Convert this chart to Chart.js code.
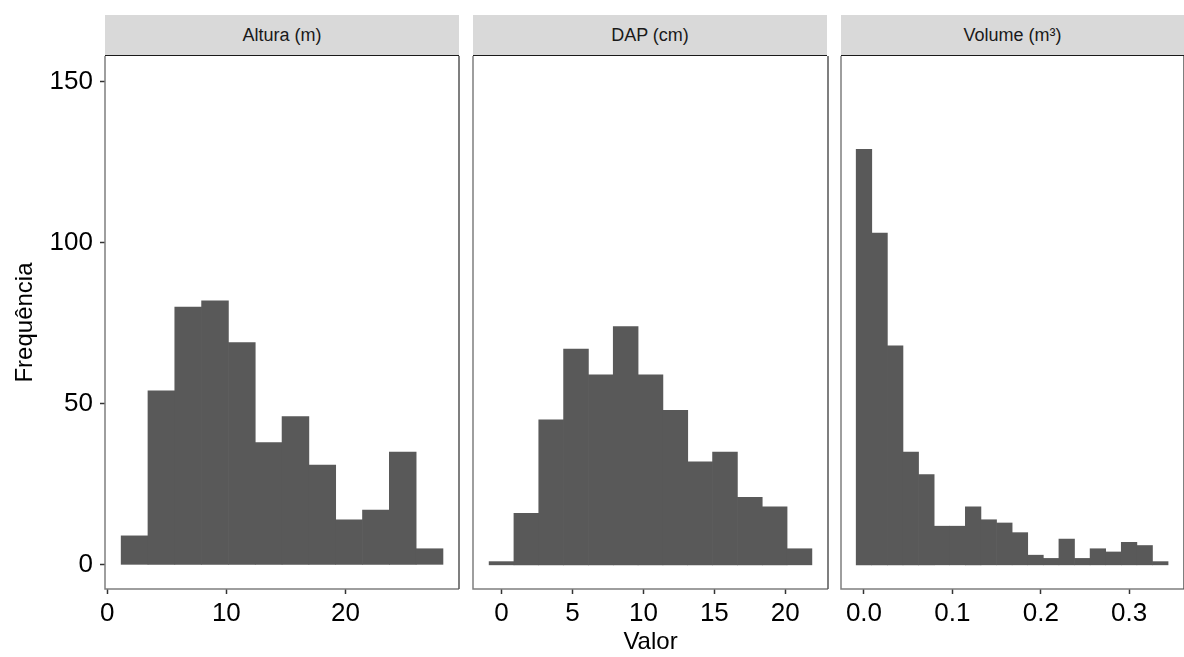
<!DOCTYPE html>
<html>
<head>
<meta charset="utf-8">
<script src="https://cdn.jsdelivr.net/npm/chart.js@4/dist/chart.umd.min.js"></script>
<style>
  body { margin: 0; background: #fff; font-family: "Liberation Sans", Arial, sans-serif; }
  #wrap { position: relative; width: 1184px; height: 657px; overflow: hidden; }
  canvas { position: absolute; }
  .strip {
    position: absolute; top: 15px; height: 40px;
    background: #d9d9d9; border-bottom: 1.5px solid #1a1a1a;
    color: #1a1a1a; font-size: 18px; line-height: 40px; text-align: center;
  }
</style>
</head>
<body>
<div id="wrap">
  <div class="strip" style="left:105px;width:354px">Altura (m)</div>
  <div class="strip" style="left:473px;width:354px">DAP (cm)</div>
  <div class="strip" style="left:841px;width:343px">Volume (m³)</div>
  <canvas id="c1" width="461" height="601" style="left:0;top:56px"></canvas>
  <canvas id="c2" width="358" height="601" style="left:472px;top:56px"></canvas>
  <canvas id="c3" width="346" height="601" style="left:840px;top:56px"></canvas>
</div>
<script>
// bin centres and counts
var alturaCentros = [2.3, 4.55, 6.8, 9.05, 11.3, 13.55, 15.8, 18.05, 20.3, 22.55, 24.8, 27.05];
var alturaFreq = [9, 54, 80, 82, 69, 38, 46, 31, 14, 17, 35, 5];

var dapCentros = [0, 1.75, 3.5, 5.25, 7, 8.75, 10.5, 12.25, 14, 15.75, 17.5, 19.25, 21];
var dapFreq = [1, 16, 45, 67, 59, 74, 59, 48, 32, 35, 21, 18, 5];

var volumeCentros = [0, 0.01764, 0.03528, 0.05292, 0.07056, 0.0882, 0.10584, 0.12348, 0.14112, 0.15876,
    0.1764, 0.19404, 0.21168, 0.22932, 0.24696, 0.2646, 0.28224, 0.29988, 0.31752, 0.33516];
var volumeFreq = [129, 103, 68, 35, 28, 12, 12, 18, 14, 13, 10, 3, 2, 8, 2, 5, 4, 7, 6, 1];

var yTicks = [0, 50, 100, 150];
var alturaTicks = [0, 10, 20];
var dapTicks = [0, 5, 10, 15, 20];
var volumeTicks = [0, 0.1, 0.2, 0.3];
var volumeTickLabels = ['0.0', '0.1', '0.2', '0.3'];

var FONT = '"Liberation Sans", Arial, sans-serif';

// panel frame: grey left/bottom axis lines and right border
var framePlugin = {
    id: 'frame',
    afterDatasetsDraw: function (chart) {
        var a = chart.chartArea, ctx = chart.ctx;
        ctx.save();
        ctx.lineWidth = 1.5;
        ctx.strokeStyle = '#7f7f7f';
        ctx.beginPath();
        ctx.moveTo(a.left, a.top);
        ctx.lineTo(a.left, a.bottom);
        ctx.lineTo(a.right, a.bottom);
        ctx.stroke();
        ctx.strokeStyle = '#555555';
        ctx.beginPath();
        ctx.moveTo(a.right, a.top);
        ctx.lineTo(a.right, a.bottom);
        ctx.stroke();
        ctx.restore();
    }
};

function noPad(s) {
    s.paddingTop = 0; s.paddingBottom = 0; s.paddingLeft = 0; s.paddingRight = 0;
}

function makePanel(id, centros, freq, xmin, xmax, xticks, xlabels, showY, xTitle, padLeft) {
    var ctx = document.getElementById(id).getContext('2d');
    var pts = centros.map(function (c, i) { return { x: c, y: freq[i] }; });
    return new Chart(ctx, {
        type: 'bar',
        data: {
            datasets: [{
                data: pts,
                backgroundColor: '#595959',
                borderWidth: 0,
                barPercentage: 1,
                categoryPercentage: 1
            }]
        },
        options: {
            responsive: false,
            animation: false,
            devicePixelRatio: 1,
            layout: { padding: { left: padLeft, right: 2, top: 0, bottom: 0 } },
            plugins: { legend: { display: false }, tooltip: { enabled: false } },
            scales: {
                x: {
                    type: 'linear',
                    offset: false,
                    min: xmin,
                    max: xmax,
                    afterBuildTicks: function (s) { s.ticks = xticks.map(function (v) { return { value: v }; }); },
                    afterFit: function (s) { s.height = 68; noPad(s); },
                    grid: { offset: false, drawOnChartArea: false, tickLength: 5, tickColor: '#333333', tickWidth: 1.5 },
                    border: { display: false },
                    ticks: {
                        autoSkip: false, maxRotation: 0, padding: 4, color: '#000',
                        font: { family: FONT, size: 26 },
                        callback: function (v, i) { return xlabels ? xlabels[i] : String(v); }
                    },
                    title: {
                        display: !!xTitle, text: xTitle || '', color: '#000',
                        font: { family: FONT, size: 24 }, padding: { top: 0, bottom: 0 }
                    }
                },
                y: {
                    min: -7.5,
                    max: 158,
                    afterBuildTicks: function (s) { s.ticks = yTicks.map(function (v) { return { value: v }; }); },
                    afterFit: function (s) { s.width = showY ? 105 : 0; noPad(s); },
                    grid: { display: showY, drawOnChartArea: false, tickLength: 5, tickColor: '#333333', tickWidth: 1.5 },
                    border: { display: false },
                    ticks: {
                        display: showY, padding: 7, color: '#000',
                        font: { family: FONT, size: 26 }
                    },
                    title: {
                        display: showY, text: 'Frequência', color: '#000',
                        font: { family: FONT, size: 24 }, padding: { top: 11, bottom: 0 }
                    }
                }
            }
        },
        plugins: [framePlugin]
    });
}

var chart1 = makePanel('c1', alturaCentros, alturaFreq, -0.18, 29.52, alturaTicks, null, true, null, 0);
var chart2 = makePanel('c2', dapCentros, dapFreq, -2.01, 23.01, dapTicks, null, false, 'Valor', 1);
var chart3 = makePanel('c3', volumeCentros, volumeFreq, -0.026, 0.362, volumeTicks, volumeTickLabels, false, null, 1);
</script>
</body>
</html>
